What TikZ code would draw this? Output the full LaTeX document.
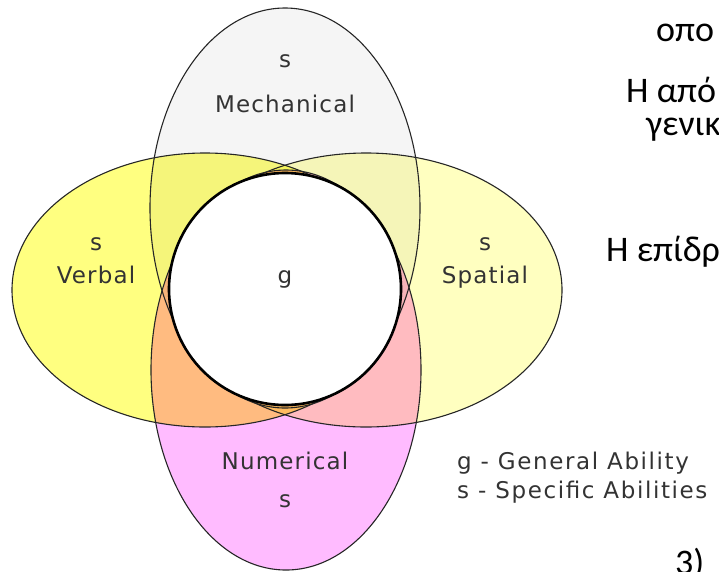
\documentclass[tikz,border=0pt]{standalone}
\usepackage{fontspec}
\setmainfont{DejaVu Sans}
\newfontfamily\greekfont{Carlito}
\usepackage{xcolor}
\usetikzlibrary{positioning}
\definecolor{mechcol}{HTML}{F5F5F5}
\definecolor{verbcol}{HTML}{FFFF80}
\definecolor{spatcol}{HTML}{FFFFC0}
\definecolor{numcol}{HTML}{FFBBFF}
\tikzset{area/.style={blend mode=multiply},
  rim/.style={draw=black!85,line width=1.1pt},
  lbl/.style={font=\fontsize{23}{26}\selectfont\addfontfeatures{LetterSpace=5},
    text=black!80,inner sep=0pt,anchor=base},
  legend/.style={lbl,font=\fontsize{23}{26}\selectfont\addfontfeatures{LetterSpace=7},
    anchor=base west},
  slide/.style={font=\greekfont\fontsize{36}{42}\selectfont,inner sep=0pt,anchor=base west}}

\begin{document}
\begin{tikzpicture}[x=1pt,y=-1pt]
  \useasboundingbox (0,0) rectangle (719,571);
  \clip (0,0) rectangle (719,571);
  % centres of the ellipses and of g
  \coordinate (mc) at (285,208);
  \coordinate (vc) at (205,290);
  \coordinate (sc) at (366,290);
  \coordinate (nc) at (286,370);
  \coordinate (gc) at (285,289);
  % fills, overlaps by multiply
  \foreach \col/\ctr/\rx/\ry in {mechcol/mc/135/200, verbcol/vc/193/137,
      spatcol/sc/196/137, numcol/nc/135/200}
    \fill[area,\col] (\ctr) ellipse [x radius=\rx pt, y radius=\ry pt];
  \foreach \ctr/\rx/\ry in {mc/135/200, vc/193/137, sc/196/137, nc/135/200}
    \draw[rim] (\ctr) ellipse [x radius=\rx pt, y radius=\ry pt];
  \draw[fill=white,line width=2.6pt] (gc) circle [radius=116pt];

  \node[lbl] (mechs) at (285,67) {s};
  \node[lbl] (mech) at (285,112) {Mechanical};
  \node[lbl] (verbs) at (96,250) {s};
  \node[lbl] (verb) at (96,283) {Verbal};
  \node[lbl] (g) at (285,283) {g};
  \node[lbl] (spats) at (485,250) {s};
  \node[lbl] (spat) at (485,283) {Spatial};
  \node[lbl] (num) at (285,469) {Numerical};
  \node[lbl] (nums) at (285,507) {s};
  \node[legend] (leg1) at (457,469) {g - General Ability};
  \node[legend] (leg2) at (457,498) {s - Specific Abilities};

  % slide text, cut at the edge
  \node[slide] (t1) at (656,41) {οπο};
  \node[slide] (t2) at (626,102) {Η από};
  \node[slide] (t3) at (646,135) {γενικ};
  \node[slide] (t4) at (606,261) {Η επίδρ};
  \node[slide] (t5) at (675,574) {3)};
\end{tikzpicture}
\end{document}
